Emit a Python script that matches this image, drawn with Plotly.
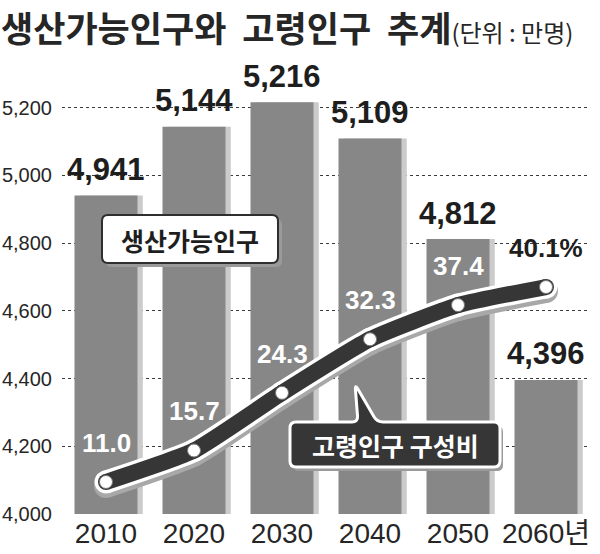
import math
import plotly.graph_objects as go

# ---------------- data ----------------
years = ["2010", "2020", "2030", "2040", "2050", "2060년"]
working_pop = [4941, 5144, 5216, 5109, 4812, 4396]          # 생산가능인구 (만명)
elderly_ratio = [11.0, 15.7, 24.3, 32.3, 37.4, 40.1]         # 고령인구 구성비 (%)
y_ticks = [4000, 4200, 4400, 4600, 4800, 5000, 5200]

# ---------------- layout constants ----------------
W, H = 600, 554
PL, PR, PT, PB = 62, 10, 40, 40
PW, PH = W - PL - PR, H - PT - PB
Y1 = [4000, 5400]
Y_MAIN = [6.22, 76.97]
shift = 4 * (Y_MAIN[1] - Y_MAIN[0]) / PH
Y_SHADOW = [Y_MAIN[0] + shift, Y_MAIN[1] + shift]

NUM = "Liberation Sans, Arial, sans-serif"
KR = "Noto Sans CJK KR, sans-serif"
BAR = "#878787"
DARK = "#363636"

x_idx = list(range(len(years)))

fig = go.Figure()

# bar shadows
fig.add_trace(go.Bar(x=x_idx, y=working_pop, width=0.716, offset=-0.358 + 0.06,
                     marker=dict(color="#cbcbcb", line=dict(width=0)),
                     hoverinfo="skip", showlegend=False))
# bars
fig.add_trace(go.Bar(x=x_idx, y=working_pop, width=0.716,
                     marker=dict(color=BAR, line=dict(width=0)),
                     showlegend=False))

# line shadow (y2, shifted down a few pixels)
fig.add_trace(go.Scatter(x=x_idx, y=elderly_ratio, yaxis="y2", mode="lines+markers",
                         line=dict(color="#a8a8a8", width=24, shape="spline", smoothing=0.5),
                         marker=dict(size=24, color="#a8a8a8"),
                         hoverinfo="skip", showlegend=False))
# white outline
fig.add_trace(go.Scatter(x=x_idx, y=elderly_ratio, yaxis="y3", mode="lines+markers",
                         line=dict(color="white", width=23, shape="spline", smoothing=0.5),
                         marker=dict(size=23, color="white"),
                         hoverinfo="skip", showlegend=False))
# dark core
fig.add_trace(go.Scatter(x=x_idx, y=elderly_ratio, yaxis="y3", mode="lines+markers",
                         line=dict(color=DARK, width=16, shape="spline", smoothing=0.5),
                         marker=dict(size=16, color=DARK),
                         hoverinfo="skip", showlegend=False))
# point markers
fig.add_trace(go.Scatter(x=x_idx, y=elderly_ratio, yaxis="y3", mode="markers",
                         marker=dict(size=13, color="white", line=dict(color="#777", width=1)),
                         showlegend=False))

annotations = []
# bar value labels
for i, v in enumerate(working_pop):
    annotations.append(dict(x=i, y=v, xref="x", yref="y", text=f"{v:,}",
                            showarrow=False, yanchor="middle", yshift=26,
                            font=dict(family=NUM, size=31, color="#1e1e1e", weight="bold")))
# ratio labels
for i, v in enumerate(elderly_ratio):
    last = i == len(elderly_ratio) - 1
    annotations.append(dict(x=i, y=v, xref="x", yref="y3",
                            text=f"{v:.1f}%" if last else f"{v:.1f}",
                            showarrow=False, yanchor="middle", yshift=39,
                            font=dict(family=NUM, size=26, color="#1e1e1e" if last else "white",
                                      weight="bold")))


def px2paper(px, py):
    return (px - PL) / PW, (PT + PH - py) / PH


def rpath(points, r=5):
    n = len(points)
    out = []
    for k in range(n):
        p0, p1, p2 = points[k - 1], points[k], points[(k + 1) % n]
        d1 = math.hypot(p1[0] - p0[0], p1[1] - p0[1])
        d2 = math.hypot(p2[0] - p1[0], p2[1] - p1[1])
        rr = min(r, d1 / 2, d2 / 2)
        a = (p1[0] + (p0[0] - p1[0]) * rr / d1, p1[1] + (p0[1] - p1[1]) * rr / d1)
        b = (p1[0] + (p2[0] - p1[0]) * rr / d2, p1[1] + (p2[1] - p1[1]) * rr / d2)
        ax, ay = px2paper(*a)
        cx, cy = px2paper(*p1)
        bx, by = px2paper(*b)
        out.append(("M" if k == 0 else "L") + f"{ax:.5f},{ay:.5f}")
        out.append(f"Q{cx:.5f},{cy:.5f} {bx:.5f},{by:.5f}")
    return " ".join(out) + " Z"


def offset(points, dx, dy):
    return [(x + dx, y + dy) for x, y in points]


shapes = []
# 생산가능인구 callout
box1 = [(102, 215), (278, 215), (278, 263), (102, 263)]
shapes.append(dict(type="path", xref="paper", yref="paper", layer="above",
                   path=rpath(offset(box1, 4, 4), 6), fillcolor="#9a9a9a", line=dict(width=0)))
shapes.append(dict(type="path", xref="paper", yref="paper", layer="above",
                   path=rpath(box1, 6), fillcolor="white", line=dict(color="#2e2e2e", width=2)))
# 고령인구 구성비 callout with pointer
box2 = [(290, 422), (358, 422), (355, 384), (377, 422), (500, 422), (500, 467), (290, 467)]
shapes.append(dict(type="path", xref="paper", yref="paper", layer="above",
                   path=rpath(offset(box2, 3, 4), 6), fillcolor="#9a9a9a", line=dict(width=0)))
shapes.append(dict(type="path", xref="paper", yref="paper", layer="above",
                   path=rpath(box2, 6), fillcolor=DARK, line=dict(color="white", width=3)))

cx1, cy1 = px2paper(190, 240)
annotations.append(dict(x=cx1, y=cy1, xref="paper", yref="paper", text="생산가능인구",
                        showarrow=False, xanchor="center", yanchor="middle",
                        font=dict(family=KR, size=25, color="#1e1e1e", weight="bold")))
cx2, cy2 = px2paper(395, 445)
annotations.append(dict(x=cx2, y=cy2, xref="paper", yref="paper", text="고령인구 구성비",
                        showarrow=False, xanchor="center", yanchor="middle",
                        font=dict(family=KR, size=25, color="white", weight="bold")))

# title
tx, ty = px2paper(0, 0)
annotations.append(dict(x=tx, y=ty, xref="paper", yref="paper", xanchor="left", yanchor="top",
                        showarrow=False, align="left", borderpad=0,
                        text="생산가능인구와&nbsp;&nbsp;고령인구&nbsp;&nbsp;추계"
                             "<span style='font-size:24px;font-weight:normal'>(단위 : 만명)</span>",
                        font=dict(family=KR, size=35, color="#262626", weight="bold")))

fig.update_layout(
    width=W, height=H,
    margin=dict(l=PL, r=PR, t=PT, b=PB, pad=0, autoexpand=False),
    paper_bgcolor="white", plot_bgcolor="white",
    barmode="overlay",
    showlegend=False,
    xaxis=dict(range=[-0.5, len(years) - 0.5], tickmode="array", tickvals=x_idx, ticktext=years,
               showgrid=False, zeroline=False, showline=False, automargin=False,
               ticks="",
               tickfont=dict(family=NUM + ", " + KR, size=28, color="#262626")),
    yaxis=dict(range=Y1, tickmode="array", tickvals=y_ticks, tickformat=",",
               showgrid=True, gridcolor="#3a3a3a", gridwidth=1, griddash="3px,3px",
               zeroline=False, showline=False, automargin=False,
               ticks="outside", ticklen=5, tickcolor="rgba(0,0,0,0)",
               tickfont=dict(family=NUM, size=20, color="#262626")),
    yaxis2=dict(range=Y_SHADOW, overlaying="y", visible=False, automargin=False),
    yaxis3=dict(range=Y_MAIN, overlaying="y", visible=False, automargin=False),
    shapes=shapes,
    annotations=annotations,
)

fig.write_html("out.html")
